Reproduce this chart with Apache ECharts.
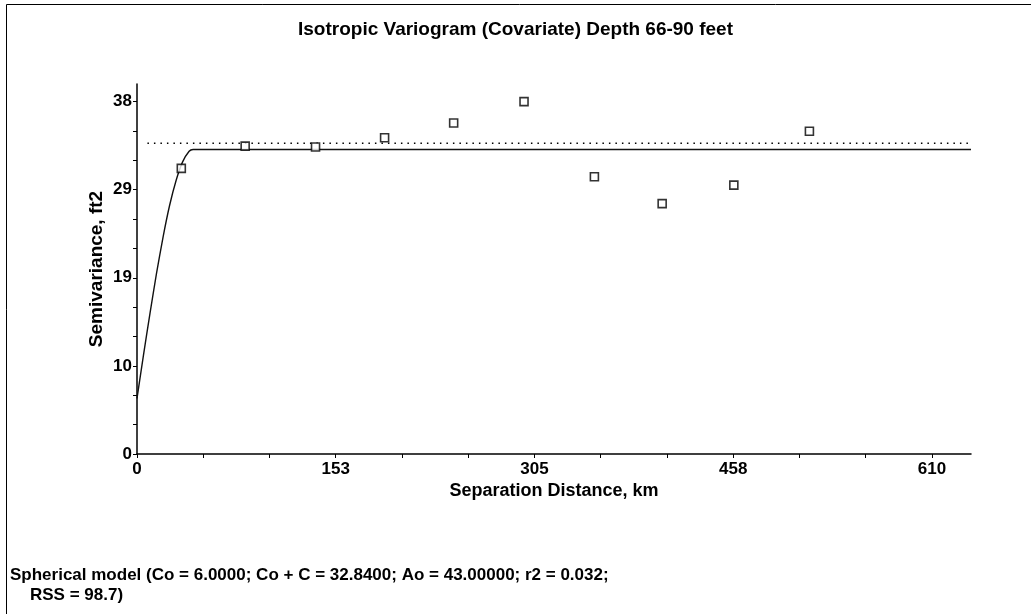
<!DOCTYPE html>
<html>
<head>
<meta charset="utf-8">
<script src="https://cdn.jsdelivr.net/npm/echarts@6/dist/echarts.min.js"></script>
<style>
html,body{margin:0;padding:0;background:#fff;}
#c{width:1031px;height:614px;}
</style>
</head>
<body>
<div id="c"></div>
<script>
// ---- data ----
var lagDistance = [34, 83, 137, 190, 243, 297, 351, 403, 458, 516];
var semivariance = [30.8, 33.2, 33.1, 34.1, 35.7, 38.0, 29.9, 27.0, 29.0, 34.8];
var modelDistance = [0, 5, 10, 15, 20, 25, 30, 35, 40, 43, 640];
var modelValue = [6.0, 10.7, 15.2, 19.5, 23.4, 26.8, 29.5, 31.5, 32.65, 32.84, 32.84];
var varianceLineX = [8, 640];
var varianceLineY = [33.5, 33.5];
var xTickLabels = ['0', '153', '305', '458', '610'];
var yTickLabels = ['0', '10', '19', '29', '38'];
var titleText = 'Isotropic Variogram (Covariate) Depth 66-90 feet';
var xName = 'Separation Distance, km';
var yName = 'Semivariance, ft2';
var footer1 = 'Spherical model (Co = 6.0000; Co + C = 32.8400; Ao = 43.00000; r2 = 0.032;';
var footer2 = 'RSS = 98.7)';

var xMax = 640, xStep = 152.5;
var yMax = 39.9, yStep = 9.5;

function zip(a, b) { return a.map(function (v, i) { return [v, b[i]]; }); }
function ticks(step, n, parts) {
  var r = [];
  for (var i = 0; i <= n * parts; i++) r.push(i * step / parts);
  return r;
}
var xMajor = xTickLabels.map(function (_, i) { return i * xStep; });
var yMajor = yTickLabels.map(function (_, i) { return i * yStep; });

var FONT = '"Liberation Sans", Arial, sans-serif';
var chart = echarts.init(document.getElementById('c'), null, { renderer: 'canvas' });
chart.setOption({
  animation: false,
  backgroundColor: '#fff',
  title: {
    text: titleText, left: 'center', top: 15,
    textStyle: { fontFamily: FONT, fontWeight: 'bold', fontSize: 19, color: '#000' }
  },
  grid: { left: 137, right: 60, top: 84, bottom: 160 },
  xAxis: {
    type: 'value', min: 0, max: xMax, interval: xStep,
    name: xName, nameLocation: 'middle', nameGap: 28, nameMoveOverlap: false,
    nameTextStyle: { fontFamily: FONT, fontWeight: 'bold', fontSize: 18, color: '#000' },
    axisLine: { lineStyle: { color: '#000', width: 1.5 } },
    axisTick: { show: true, length: 4, customValues: ticks(xStep, 4, 3), lineStyle: { color: '#000' } },
    axisLabel: {
      customValues: xMajor, margin: 7, color: '#000',
      fontFamily: FONT, fontWeight: 700, fontSize: 17,
      formatter: function (v) { var i = Math.round(v / xStep); return xTickLabels[i] || ''; }
    },
    splitLine: { show: false }
  },
  yAxis: {
    type: 'value', min: 0, max: yMax, interval: yStep,
    name: yName, nameLocation: 'middle', nameGap: 31, nameRotate: 90, nameMoveOverlap: false,
    nameTextStyle: { fontFamily: FONT, fontWeight: 'bold', fontSize: 19, color: '#000' },
    axisLine: { show: true, lineStyle: { color: '#000', width: 1.5 } },
    axisTick: { show: true, length: 4, customValues: ticks(yStep, 4, 3), lineStyle: { color: '#000' } },
    axisLabel: {
      customValues: yMajor, margin: 5, color: '#000',
      fontFamily: FONT, fontWeight: 700, fontSize: 17,
      formatter: function (v) { var i = Math.round(v / yStep); return yTickLabels[i] || ''; }
    },
    splitLine: { show: false }
  },
  series: [
    {
      type: 'line', data: zip(varianceLineX, varianceLineY), symbol: 'none',
      lineStyle: { color: '#000', width: 1.5, type: [1.5, 5] }, silent: true
    },
    {
      type: 'line', data: zip(modelDistance, modelValue), symbol: 'none', smooth: 0.2,
      lineStyle: { color: '#111', width: 1.4 }, silent: true
    },
    {
      type: 'scatter', data: zip(lagDistance, semivariance), symbol: 'rect', symbolSize: 8,
      itemStyle: { color: '#fff', borderColor: '#000', borderWidth: 1.6 }, z: 5
    }
  ],
  graphic: [
    { type: 'rect', shape: { x: 6.5, y: 4.5, width: 1100, height: 700 }, style: { fill: 'none', stroke: '#000', lineWidth: 1 } },
    { type: 'text', left: 10, top: 567, style: { text: footer1, font: 'bold 17px ' + FONT, fill: '#000' } },
    { type: 'text', left: 30, top: 587, style: { text: footer2, font: 'bold 17px ' + FONT, fill: '#000' } }
  ]
});
</script>
</body>
</html>
